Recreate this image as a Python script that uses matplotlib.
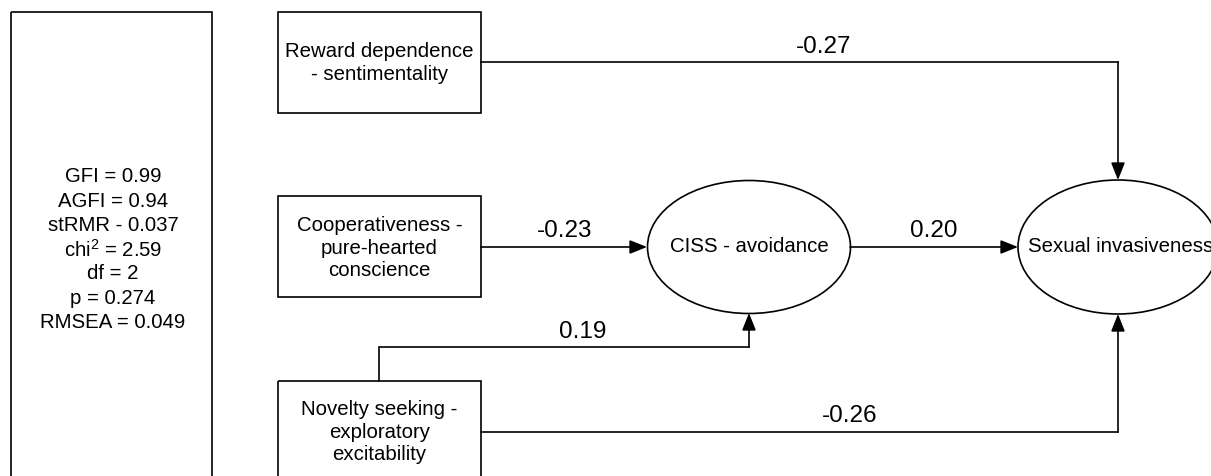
import matplotlib.pyplot as plt
from matplotlib.patches import Rectangle, Ellipse

plt.rcParams['font.family'] = ['Liberation Sans', 'DejaVu Sans']
plt.rcParams['mathtext.fontset'] = 'custom'
plt.rcParams['mathtext.rm'] = 'Liberation Sans'

# fit indices (left box)
fit_lines = ["GFI = 0.99", "AGFI = 0.94", "stRMR - 0.037", "chi$^2$ = 2.59",
             "df = 2", "p = 0.274", "RMSEA = 0.049"]

# observed variables and latent variables
predictors = ["Reward dependence\n- sentimentality",
              "Cooperativeness -\npure-hearted\nconscience",
              "Novelty seeking -\nexploratory\nexcitability"]
mediator = "CISS - avoidance"
outcome = "Sexual invasiveness"

# path coefficients
coef_reward_sex = "-0.27"
coef_coop_ciss = "-0.23"
coef_ciss_sex = "0.20"
coef_novel_ciss = "0.19"
coef_novel_sex = "-0.26"

fig = plt.figure(figsize=(12.11, 4.76), dpi=100)
ax = fig.add_axes([0, 0, 1, 1])
ax.set_xlim(0, 1211)
ax.set_ylim(476, 0)
ax.axis('off')

lw = 1.2
fs_box = 14.7
fs_lab = 17.5

# left box with fit statistics
ax.add_patch(Rectangle((11, 12), 201, 500, fill=False, lw=lw, ec='black'))
for i, line in enumerate(fit_lines):
    ax.text(113, 177 + i * 24.2, line, ha='center', va='center', fontsize=fs_box)

# predictor boxes
box_x, box_w, box_h = 278, 203, 101
box_tops = [12, 196, 381]
for name, top in zip(predictors, box_tops):
    ax.add_patch(Rectangle((box_x, top), box_w, box_h, fill=False, lw=lw, ec='black'))
box_text_y = [63, 248, 432]
for name, ty in zip(predictors, box_text_y):
    ax.text(box_x + box_w / 2, ty, name, ha='center', va='center',
            fontsize=fs_box, linespacing=1.22)

# ellipses
ciss_c, sex_c = (749, 247), (1118, 247)
ax.add_patch(Ellipse(ciss_c, 203, 133, fill=False, lw=lw, ec='black'))
ax.add_patch(Ellipse(sex_c, 200, 134, fill=False, lw=lw, ec='black'))
ax.text(ciss_c[0], ciss_c[1], mediator, ha='center', va='center', fontsize=fs_box)
ax.text(1028, sex_c[1], outcome, ha='left', va='center', fontsize=fs_box, clip_on=True)

arrow = dict(arrowstyle='-|>,head_length=1.05,head_width=0.42', color='black',
             lw=lw, shrinkA=0, shrinkB=0, mutation_scale=10)


def path(points):
    xs = [p[0] for p in points]
    ys = [p[1] for p in points]
    ax.plot(xs[:-1], ys[:-1], color='black', lw=lw, solid_joinstyle='miter')
    ax.annotate('', xy=points[-1], xytext=points[-2], arrowprops=arrow)


# reward -> sexual
path([(481, 62), (1118, 62), (1118, 180)])
ax.text(824, 47, coef_reward_sex, ha='center', va='center', fontsize=fs_lab)
# coop -> ciss
path([(481, 247), (647, 247)])
ax.text(565, 231, coef_coop_ciss, ha='center', va='center', fontsize=fs_lab)
# ciss -> sexual
path([(850, 247), (1018, 247)])
ax.text(934, 231, coef_ciss_sex, ha='center', va='center', fontsize=fs_lab)
# novelty -> ciss
path([(379, 381), (379, 347), (749, 347), (749, 313)])
ax.text(583, 332, coef_novel_ciss, ha='center', va='center', fontsize=fs_lab)
# novelty -> sexual
path([(481, 432), (1118, 432), (1118, 314)])
ax.text(850, 416, coef_novel_sex, ha='center', va='center', fontsize=fs_lab)

fig.savefig('out.png', dpi=100)
